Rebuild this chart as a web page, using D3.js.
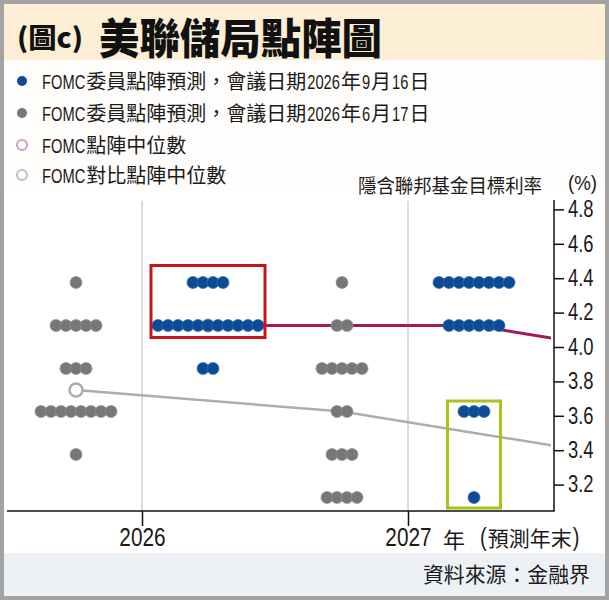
<!DOCTYPE html>
<html>
<head>
<meta charset="utf-8">
<script src="https://cdn.jsdelivr.net/npm/d3@7"></script>
<style>
  body { margin: 0; background: #fff; }
  svg { display: block; }
</style>
</head>
<body>
<script>
// ---------------- DATA ----------------
const years = [2026, 2027];
const yearLabels = ["2026", "2027"];
const meetings = ["june", "sept"];            // 6月17日 (grey) , 9月16日 (blue)
const rateLevels = [4.375, 4.125, 3.875, 3.625, 3.375, 3.125];
const juneDots2026 = [1, 5, 3, 8, 1, 0];
const juneDots2027 = [1, 2, 5, 2, 3, 4];
const septDots2026 = [4, 11, 2, 0, 0, 0];
const septDots2027 = [8, 6, 0, 3, 0, 1];
const medianYears = [2026, 2027, 2028];
const medianSept = [4.125, 4.125, 3.875];
const medianJune = [3.75, 3.625, 3.375];
const yTicks = [3.2, 3.4, 3.6, 3.8, 4.0, 4.2, 4.4, 4.6, 4.8];
const legendItems = [
  { label: "FOMC委員點陣預測，會議日期2026年9月16日", kind: "blue" },
  { label: "FOMC委員點陣預測，會議日期2026年6月17日", kind: "grey" },
  { label: "FOMC點陣中位數", kind: "medSept" },
  { label: "FOMC對比點陣中位數", kind: "medJune" }
];

// ---------------- STYLE ----------------
const W = 609, H = 600;
const LATIN = "'Liberation Sans',Arial,sans-serif";
const CJK = "'Noto Sans CJK TC','Noto Sans CJK JP',sans-serif";
const C = {
  blue: "#0c4c97", blueStroke: "#3568a8",
  grey: "#777777", greyStroke: "#909090",
  magenta: "#a3175c", medJune: "#adadad",
  grid: "#cfcfcf", red: "#c8151d", lime: "#a9c21c",
  band: "#fcefd5", footer: "#edf1f6", border: "#a3a3a3", ink: "#1a1a1a"
};

function squeeze(node, factor) {
  const w = node.getComputedTextLength();
  if (w > 0) {
    node.setAttribute("textLength", (w * factor).toFixed(2));
    node.setAttribute("lengthAdjust", "spacingAndGlyphs");
  }
  return w * factor;
}
// mixed text: each run its own <text>; latin runs condensed with a scale transform
function mixedText(parent, x, yBase, str, latinSize, cjkSize, latinFactor, gap) {
  const runs = str.match(/[A-Za-z0-9.()%]+|[^A-Za-z0-9.()%]+/g);
  let cx = x;
  runs.forEach(r => {
    const isLatin = /^[A-Za-z0-9.()%]+$/.test(r);
    const t = parent.append("text").attr("x", 0).attr("y", 0).attr("fill", C.ink).text(r)
      .attr("font-family", isLatin ? LATIN : CJK)
      .attr("font-size", isLatin ? latinSize : cjkSize);
    const f = isLatin ? latinFactor : 1;
    t.attr("transform", `translate(${cx.toFixed(2)},${yBase}) scale(${f},1)`);
    cx += t.node().getComputedTextLength() * f + gap;
  });
  return cx;
}

const svg = d3.select("body").append("svg").attr("width", W).attr("height", H);

// backgrounds
svg.append("rect").attr("width", W).attr("height", H).attr("fill", "#fffdfb");
svg.append("rect").attr("x", 0).attr("y", 0).attr("width", W).attr("height", 60).attr("fill", C.band);
svg.append("rect").attr("x", 0).attr("y", 553).attr("width", W).attr("height", 47).attr("fill", C.footer);
svg.append("rect").attr("x", 0).attr("y", 190).attr("width", W).attr("height", 363).attr("fill", "#ffffff");

// title
svg.append("text").attr("x", 17).attr("y", 36).attr("dominant-baseline", "central")
  .attr("font-family", CJK).attr("font-weight", 900).attr("font-size", 27)
  .attr("textLength", 66).attr("lengthAdjust", "spacingAndGlyphs").attr("fill", "#111")
  .text("(圖c)");
svg.append("text").attr("x", 99).attr("y", 35).attr("dominant-baseline", "central")
  .attr("font-family", CJK).attr("font-weight", 900).attr("font-size", 42)
  .attr("textLength", 283).attr("lengthAdjust", "spacingAndGlyphs").attr("fill", "#111")
  .text("美聯儲局點陣圖");

// legend
const legY = [81, 113, 145, 175];
const lg = svg.append("g");
legendItems.forEach((d, i) => {
  const cy = legY[i];
  const c = lg.append("circle").attr("cx", 22).attr("cy", cy).attr("r", 5);
  if (d.kind === "blue") c.attr("fill", C.blue);
  else if (d.kind === "grey") c.attr("fill", C.grey);
  else if (d.kind === "medSept") c.attr("fill", "#fff").attr("stroke", "#c9a2c2").attr("stroke-width", 2);
  else c.attr("fill", "#fff").attr("stroke", "#bdbdbd").attr("stroke-width", 2);
  mixedText(lg, 42, cy + 7.6, d.label, 21, 20, 0.7, 1);
});

// axis titles
svg.append("text").attr("x", 358).attr("y", 184).attr("dominant-baseline", "central")
  .attr("font-family", CJK).attr("font-size", 19).attr("fill", C.ink)
  .attr("textLength", 184).attr("lengthAdjust", "spacingAndGlyphs")
  .text("隱含聯邦基金目標利率");
svg.append("text").attr("x", 568).attr("y", 190).attr("font-family", LATIN)
  .attr("font-size", 21).attr("fill", C.ink)
  .attr("textLength", 29).attr("lengthAdjust", "spacingAndGlyphs")
  .text("(%)");

// ---------------- SCALES ----------------
const y = d3.scaleLinear().domain([3.2, 4.8]).range([484.6, 209.4]);
const xYear = d3.scaleLinear().domain([2026, 2027]).range([142, 408]);
const sub = d3.scaleBand().domain(meetings).range([-132, 132]);
const xm = (yr, m) => xYear(yr) + sub(m) + sub.bandwidth() / 2;

const plotLeft = 7, plotRight = 554, plotTop = 200, plotBottom = 511;

svg.append("clipPath").attr("id", "clip").append("rect")
  .attr("x", plotLeft).attr("y", plotTop).attr("width", 551 - plotLeft).attr("height", plotBottom - plotTop);

// gridlines at years
svg.append("g").selectAll("line").data(years).join("line")
  .attr("x1", d => xYear(d)).attr("x2", d => xYear(d))
  .attr("y1", 201).attr("y2", plotBottom)
  .attr("stroke", C.grid).attr("stroke-width", 1.5);

// median lines
const line = d3.line().x(d => d.x).y(d => y(d.v));
const septMed = medianYears.map((yr, i) => ({ x: xm(yr, "sept"), v: medianSept[i] }));
const juneMed = medianYears.map((yr, i) => ({ x: xm(yr, "june"), v: medianJune[i] }));
const lines = svg.append("g").attr("clip-path", "url(#clip)");
lines.append("path").attr("d", line(juneMed)).attr("fill", "none")
  .attr("stroke", C.medJune).attr("stroke-width", 2.5);
lines.append("path").attr("d", line(septMed)).attr("fill", "none")
  .attr("stroke", C.magenta).attr("stroke-width", 3);
lines.append("circle").attr("cx", septMed[0].x).attr("cy", y(septMed[0].v)).attr("r", 6)
  .attr("fill", "#fff").attr("stroke", "#c9a2c2").attr("stroke-width", 2);

// dots
const SP = 10, R = 6;
function dotsFor(yr, m, counts) {
  const out = [];
  counts.forEach((n, li) => {
    for (let i = 0; i < n; i++) out.push({ x: xm(yr, m) + (i - (n - 1) / 2) * SP, v: rateLevels[li], m });
  });
  return out;
}
const allDots = [
  ...dotsFor(2026, "june", juneDots2026),
  ...dotsFor(2027, "june", juneDots2027),
  ...dotsFor(2026, "sept", septDots2026),
  ...dotsFor(2027, "sept", septDots2027)
];
svg.append("g").selectAll("circle").data(allDots).join("circle")
  .attr("cx", d => d.x).attr("cy", d => y(d.v)).attr("r", R)
  .attr("fill", d => d.m === "sept" ? C.blue : C.grey)
  .attr("stroke", d => d.m === "sept" ? C.blueStroke : C.greyStroke)
  .attr("stroke-width", 0.7);

// June median hollow marker
svg.append("circle").attr("cx", juneMed[0].x).attr("cy", y(juneMed[0].v)).attr("r", 6.5)
  .attr("fill", "#fff").attr("stroke", C.medJune).attr("stroke-width", 2.5);

// highlight boxes
const bx1 = xm(2026, "sept");
svg.append("rect").attr("x", bx1 - 57).attr("y", y(4.375) - 17)
  .attr("width", 114).attr("height", y(4.125) - y(4.375) + 29)
  .attr("fill", "none").attr("stroke", C.red).attr("stroke-width", 3);
const bx2 = xm(2027, "sept");
svg.append("rect").attr("x", bx2 - 26.5).attr("y", y(3.625) - 10.5)
  .attr("width", 53).attr("height", y(3.125) - y(3.625) + 21)
  .attr("fill", "none").attr("stroke", C.lime).attr("stroke-width", 3);

// axes
const yAxis = d3.axisRight(y).tickValues(yTicks).tickSize(10).tickPadding(4).tickFormat(d3.format(".1f"));
const gy = svg.append("g").attr("transform", `translate(${plotRight},0)`).call(yAxis);
gy.select(".domain").remove();
gy.selectAll(".tick line").attr("stroke", "#111").attr("stroke-width", 1.5);
gy.selectAll(".tick text").attr("font-family", LATIN).attr("font-size", 23).attr("fill", C.ink)
  .each(function () { squeeze(this, 0.8); });

const xAxis = d3.axisBottom(xYear).tickValues(years).tickSize(15).tickPadding(2).tickFormat((d, i) => yearLabels[i]);
const gx = svg.append("g").attr("transform", `translate(0,${plotBottom})`).call(xAxis);
gx.select(".domain").remove();
gx.selectAll(".tick line").attr("stroke", "#111").attr("stroke-width", 1.5);
gx.selectAll(".tick text").attr("font-family", LATIN).attr("font-size", 26).attr("fill", C.ink)
  .each(function () { squeeze(this, 0.8); });

// frame lines
svg.append("line").attr("x1", plotLeft).attr("x2", plotRight + 0.75).attr("y1", plotBottom).attr("y2", plotBottom)
  .attr("stroke", "#111").attr("stroke-width", 1.5);
svg.append("line").attr("x1", plotRight).attr("x2", plotRight).attr("y1", plotTop).attr("y2", plotBottom)
  .attr("stroke", "#111").attr("stroke-width", 1.5);

// x-axis unit labels
svg.append("text").attr("x", 443).attr("y", 538).attr("dominant-baseline", "central")
  .attr("font-family", CJK).attr("font-size", 22).attr("fill", C.ink).text("年");
mixedText(svg, 480, 546, "(預測年末)", 25, 21, 0.8, 1);

// footer
svg.append("text").attr("x", 590).attr("y", 573).attr("dominant-baseline", "central")
  .attr("text-anchor", "end").attr("font-family", CJK).attr("font-size", 21).attr("fill", C.ink)
  .attr("textLength", 167).attr("lengthAdjust", "spacingAndGlyphs").text("資料來源：金融界");

// outer border
svg.append("rect").attr("x", 2).attr("y", 2).attr("width", W - 4).attr("height", H - 4)
  .attr("fill", "none").attr("stroke", C.border).attr("stroke-width", 4);
</script>
</body>
</html>
